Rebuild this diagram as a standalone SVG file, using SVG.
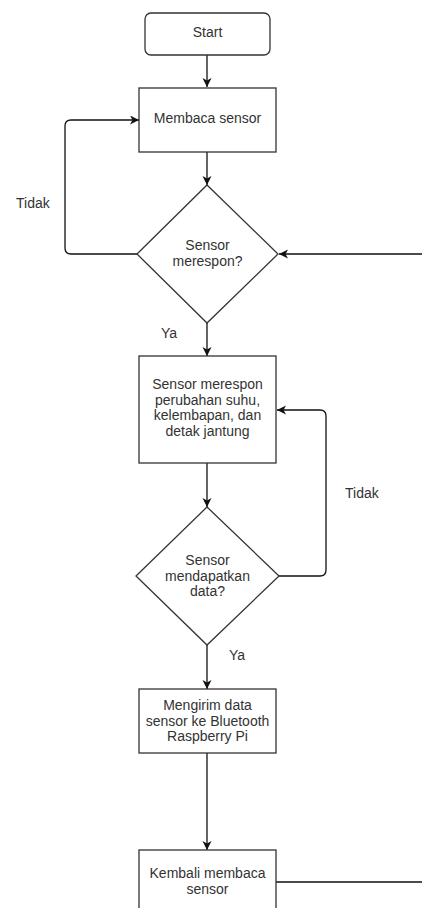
<svg xmlns="http://www.w3.org/2000/svg" width="422" height="908" viewBox="0 0 422 908">
<style>
.box{fill:#fff;stroke:#333;stroke-width:1.3}
.t{font-family:"Liberation Sans",Arial,sans-serif;font-size:14px;fill:#333;text-anchor:middle}
.lbl{font-family:"Liberation Sans",Arial,sans-serif;font-size:14px;fill:#333}
.c{fill:none;stroke:#111;stroke-width:1.3}
</style>
<defs>
<marker id="ah" markerUnits="userSpaceOnUse" markerWidth="10" markerHeight="10" refX="9" refY="4.5" orient="auto">
<path d="M0,0 L9,4.5 L0,9 L2.5,4.5 z" fill="#111"/>
</marker>
</defs>
<rect x="0" y="0" width="422" height="908" fill="#fff"/>
<g id="connectors">
<path class="c" d="M207,55 L207,87" marker-end="url(#ah)"/>
<path class="c" d="M207,152 L207,185" marker-end="url(#ah)"/>
<path class="c" d="M137,254 L71,254 Q65,254 65,248 L65,126 Q65,120 71,120 L139,120" marker-end="url(#ah)"/>
<path class="c" d="M422,254 L279,254" marker-end="url(#ah)"/>
<path class="c" d="M207,323 L207,356" marker-end="url(#ah)"/>
<path class="c" d="M207,463 L207,507" marker-end="url(#ah)"/>
<path class="c" d="M279,576 L320,576 Q326,576 326,570 L326,416 Q326,410 320,410 L277,410" marker-end="url(#ah)"/>
<path class="c" d="M207,645 L207,689" marker-end="url(#ah)"/>
<path class="c" d="M207,753 L207,850" marker-end="url(#ah)"/>
<path class="c" d="M276,882 L422,882"/>
<text class="lbl" x="16" y="208">Tidak</text>
<text class="lbl" x="161" y="338">Ya</text>
<text class="lbl" x="345" y="498">Tidak</text>
<text class="lbl" x="229" y="660">Ya</text>
</g>
<g id="start">
<rect class="box" x="145" y="13" width="125" height="42" rx="6"/>
<text class="t" x="207.5" y="37">Start</text>
</g>
<g id="membaca">
<rect class="box" x="139" y="88" width="137" height="64"/>
<text class="t" x="207.5" y="123">Membaca sensor</text>
</g>
<g id="decision1">
<path class="box" d="M207,185 L278,254 L207,323 L137,254 Z"/>
<text class="t" x="207.5" y="250">Sensor</text>
<text class="t" x="207.5" y="266">merespon?</text>
</g>
<g id="respon">
<rect class="box" x="139" y="356" width="137" height="107"/>
<text class="t" x="207.5" y="389">Sensor merespon</text>
<text class="t" x="207.5" y="404.5">perubahan suhu,</text>
<text class="t" x="207.5" y="420">kelembapan, dan</text>
<text class="t" x="207.5" y="436">detak jantung</text>
</g>
<g id="decision2">
<path class="box" d="M207,507 L279,576 L207,645 L136,576 Z"/>
<text class="t" x="207.5" y="564.5">Sensor</text>
<text class="t" x="207.5" y="581">mendapatkan</text>
<text class="t" x="207.5" y="596">data?</text>
</g>
<g id="kirim">
<rect class="box" x="139" y="689" width="137" height="64"/>
<text class="t" x="207.5" y="709.5">Mengirim data</text>
<text class="t" x="207.5" y="725.5">sensor ke Bluetooth</text>
<text class="t" x="207.5" y="740.5">Raspberry Pi</text>
</g>
<g id="kembali">
<rect class="box" x="139" y="850" width="137" height="70"/>
<text class="t" x="207.5" y="878">Kembali membaca</text>
<text class="t" x="207.5" y="894">sensor</text>
</g>
</svg>
